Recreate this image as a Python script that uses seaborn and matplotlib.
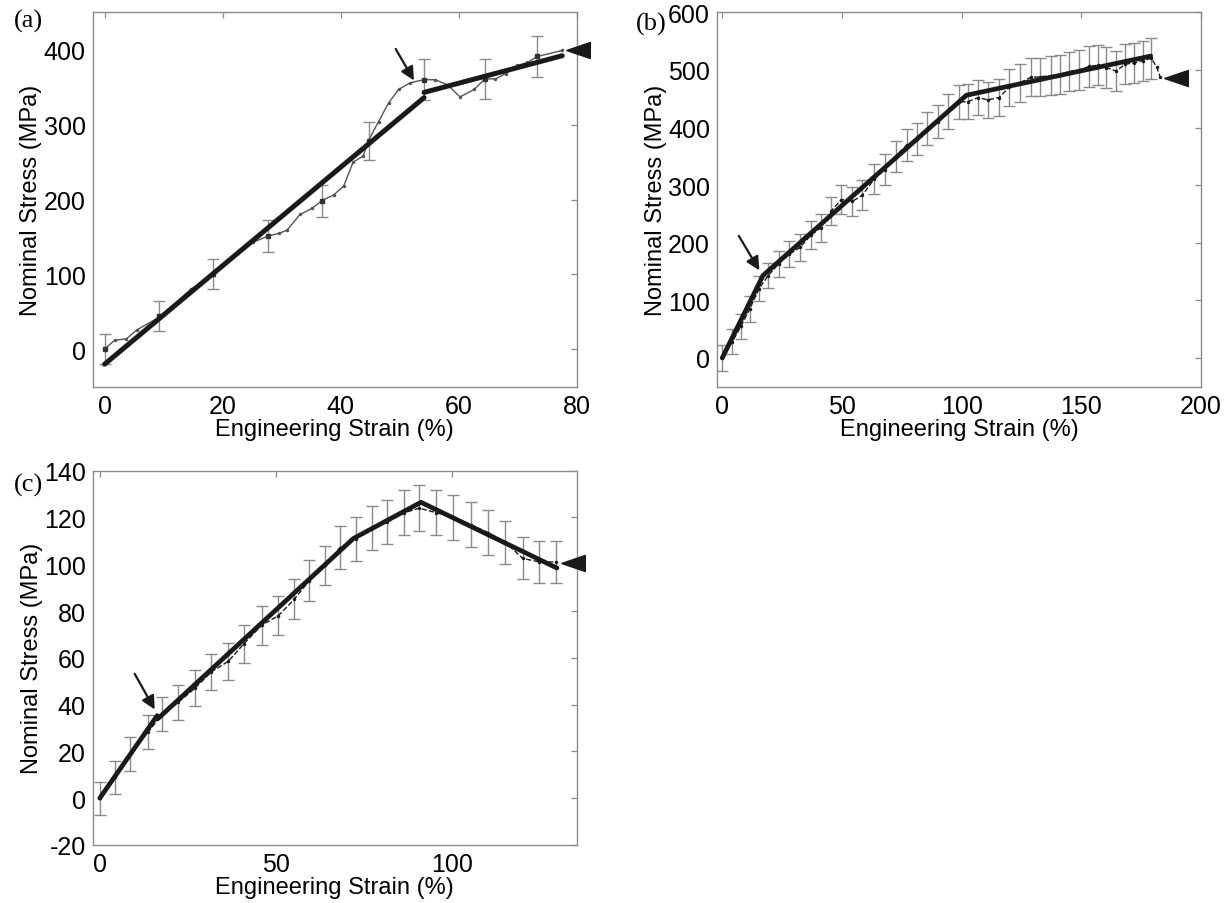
import matplotlib
matplotlib.use("Agg")
import matplotlib.pyplot as plt
import seaborn as sns
import pandas as pd

# ---------------- panel (a) ----------------
strain_a = [0, 1.7, 3.7, 5.5, 9.3, 14.6, 18.4, 25.2, 27.6, 29.6, 30.9, 33.1, 35.1, 36.9,
            38.8, 40.5, 42.1, 43.8, 44.7, 46.4, 48.1, 49.8, 51.8, 54.1, 56.0, 58.1, 60.2,
            62.6, 64.4, 66.2, 67.9, 69.9, 71.6, 73.3, 77.5]
stress_a = [0, 12, 14, 26, 43, 80, 100, 143, 151, 155, 159, 180, 188, 199,
            206, 218, 250, 258, 279, 304, 329, 347, 356, 360, 360, 353, 337,
            347, 361, 361, 368, 379, 383, 391, 399]
bar_x_a = [0, 9.3, 18.4, 27.6, 36.9, 44.7, 54.1, 64.4, 73.3]
bar_y_a = [0, 44, 100, 151, 198, 278, 360, 361, 391]
bar_e_a = [20, 20, 20, 21, 22, 25, 27, 27, 28]
fit_a1_x, fit_a1_y = [0, 54.1], [-20, 336]
fit_a2_x, fit_a2_y = [54.1, 77.5], [343, 392]
arrow_a = ((49.3, 401), (52.4, 359))
end_a = (80.2, 400)

# ---------------- panel (b) ----------------
bar_x_b = [0, 4.2, 7.8, 11.5, 15.3, 19.2, 23.5, 28, 32.5, 37, 41.2, 45.5, 49.8, 54.4,
           58.4, 63.4, 67.8, 72.5, 77.1, 81.4, 85.7, 90, 94.4, 98.7, 102.7, 107, 110.9,
           115.6, 120, 124.5, 128.9, 132.9, 137.2, 141.1, 145, 149, 153.3, 156.9, 160.5,
           164.5, 168.4, 172, 175.6, 179.2]
bar_y_b = [0, 28, 55, 85, 120, 143, 163, 180, 192, 213, 226, 255, 275, 272,
           282, 310, 327, 350, 370, 380, 398, 410, 428, 444, 445, 452, 448,
           452, 470, 478, 487, 488, 490, 492, 497, 500, 506, 508, 504,
           498, 510, 512, 516, 520]
bar_e_b = [22, 22, 22, 22, 22, 22, 23, 23, 23, 24, 24, 25, 25, 25,
           26, 26, 27, 27, 28, 28, 29, 29, 30, 30, 30, 31, 31,
           32, 32, 33, 33, 33, 34, 34, 34, 35, 35, 35, 35,
           35, 35, 35, 35, 35]
tail_x_b = [181.5, 183]
tail_y_b = [505, 487]
fit_b_x = [0, 17, 102, 179]
fit_b_y = [0, 143, 456, 524]
arrow_b = ((6.9, 212), (15.5, 152))
end_b = (189.5, 486)

# ---------------- panel (c) ----------------
bar_x_c = [0, 4.3, 8.7, 13.8, 17.8, 22.3, 27, 31.7, 36.5, 40.9, 46, 50.7, 55.2, 59.5,
           63.9, 68.1, 72.7, 77.2, 81.6, 86.4, 90.7, 95.6, 100.4, 105.3, 110.3, 115.1,
           120.1, 124.8, 129.6]
bar_y_c = [0, 9, 19, 28.4, 36, 41, 47, 54, 58.5, 66, 74, 78, 85, 93,
           99.5, 107, 111, 115.5, 118, 122, 124, 122, 120, 117, 113.5, 109.5,
           102.5, 101, 101]
bar_e_c = [7, 7, 7.3, 7.3, 7.4, 7.5, 7.7, 7.8, 8, 8, 8.3, 8.3, 8.5, 8.7,
           8.3, 9.2, 9.4, 9.4, 9.5, 9.6, 9.8, 9.6, 9.5, 9.5, 9.5, 9.2,
           9, 8.9, 8.8]
fit_c1_x, fit_c1_y = [0, 16.3], [0, 35.3]
fit_c2_x, fit_c2_y = [16.5, 72, 91.2, 129.8], [34, 111, 126.5, 98.4]
arrow_c = ((9.9, 53.2), (15.6, 37.9))
end_c = (134.5, 100.7)

panel_labels = ["(a)", "(b)", "(c)"]

sns.set_theme(style="white")
plt.rcParams["font.family"] = ["Liberation Sans", "DejaVu Sans"]
plt.rcParams["axes.unicode_minus"] = False
plt.rcParams["text.color"] = "black"
plt.rcParams["axes.labelcolor"] = "black"
plt.rcParams["xtick.labelcolor"] = "black"
plt.rcParams["ytick.labelcolor"] = "black"

BAR_COLOR = "#8a8a8a"
AX_COLOR = "#8c8c8c"
TRI = [(-1, 0), (1, 0.68), (1, -0.68), (-1, 0)]

fig = plt.figure(figsize=(12.25, 9.04), dpi=100)
ax_a = fig.add_axes([0.0757, 0.5711, 0.3953, 0.4142])
ax_b = fig.add_axes([0.5853, 0.5711, 0.3951, 0.4142])
ax_c = fig.add_axes([0.0757, 0.0642, 0.3953, 0.4140])


def style(ax, xlim, ylim, xticks, yticks):
    ax.set_xlim(*xlim)
    ax.set_ylim(*ylim)
    ax.set_xticks(xticks)
    ax.set_yticks(yticks)
    ax.tick_params(direction="in", length=4, width=0.9, color=AX_COLOR,
                   top=True, right=True, labelsize=18, pad=5)
    for s in ax.spines.values():
        s.set_linewidth(1.0)
        s.set_color(AX_COLOR)
    ax.set_xlabel("Engineering Strain (%)", fontsize=17, labelpad=0)
    ax.set_ylabel("Nominal Stress (MPa)", fontsize=17, labelpad=1)


def bars(ax, x, y, e):
    ax.errorbar(x, y, yerr=e, fmt="none", ecolor=BAR_COLOR, elinewidth=1.0,
                capsize=4, capthick=1.0, zorder=2)


def arrow(ax, a):
    ax.annotate("", xy=a[1], xytext=a[0],
                arrowprops=dict(arrowstyle="-|>", color="k", lw=1.6,
                                mutation_scale=20, shrinkA=0, shrinkB=0))


def end_marker(ax, p):
    ax.plot([p[0]], [p[1]], marker=TRI, markersize=17, color="k",
            linestyle="none", clip_on=False, zorder=5)


# (a)
bars(ax_a, bar_x_a, bar_y_a, bar_e_a)
sns.lineplot(x=strain_a, y=stress_a, ax=ax_a, sort=False, color="#555555",
             linewidth=1.0, marker="o", markersize=2.5, markeredgewidth=0, zorder=3)
ax_a.plot(bar_x_a, bar_y_a, "s", color="#333333", markersize=3, zorder=3)
sns.lineplot(x=fit_a1_x, y=fit_a1_y, ax=ax_a, color="k", linewidth=3.6, zorder=4)
sns.lineplot(x=fit_a2_x, y=fit_a2_y, ax=ax_a, color="k", linewidth=3.6, zorder=4)
arrow(ax_a, arrow_a)
end_marker(ax_a, end_a)
style(ax_a, (-2, 80), (-50, 450), [0, 20, 40, 60, 80], [0, 100, 200, 300, 400])

# (b)
bars(ax_b, bar_x_b, bar_y_b, bar_e_b)
sns.lineplot(x=bar_x_b + tail_x_b, y=bar_y_b + tail_y_b, ax=ax_b, sort=False,
             color="k", linewidth=1.0, linestyle="--", marker="o", markersize=2.5,
             markeredgewidth=0, zorder=3)
sns.lineplot(x=fit_b_x, y=fit_b_y, ax=ax_b, sort=False, color="k", linewidth=3.4, zorder=4)
arrow(ax_b, arrow_b)
end_marker(ax_b, end_b)
style(ax_b, (-2.2, 200), (-50, 600), [0, 50, 100, 150, 200],
      [0, 100, 200, 300, 400, 500, 600])

# (c)
bars(ax_c, bar_x_c, bar_y_c, bar_e_c)
sns.lineplot(x=bar_x_c, y=bar_y_c, ax=ax_c, sort=False, color="k", linewidth=1.0,
             linestyle="--", marker="o", markersize=2.5, markeredgewidth=0, zorder=3)
sns.lineplot(x=fit_c1_x, y=fit_c1_y, ax=ax_c, color="k", linewidth=3.4, zorder=4)
sns.lineplot(x=fit_c2_x, y=fit_c2_y, ax=ax_c, sort=False, color="k", linewidth=3.4, zorder=4)
arrow(ax_c, arrow_c)
end_marker(ax_c, end_c)
style(ax_c, (-2, 135.5), (-20, 140), [0, 50, 100], [-20, 0, 20, 40, 60, 80, 100, 120, 140])

for lab, (fx, fy) in zip(panel_labels, [(0.023, 0.976), (0.532, 0.973), (0.023, 0.463)]):
    fig.text(fx, fy, lab, fontsize=19, family=["Liberation Serif", "DejaVu Serif"],
             ha="center", va="center", color="black")

fig.savefig("out.png", dpi=100)
